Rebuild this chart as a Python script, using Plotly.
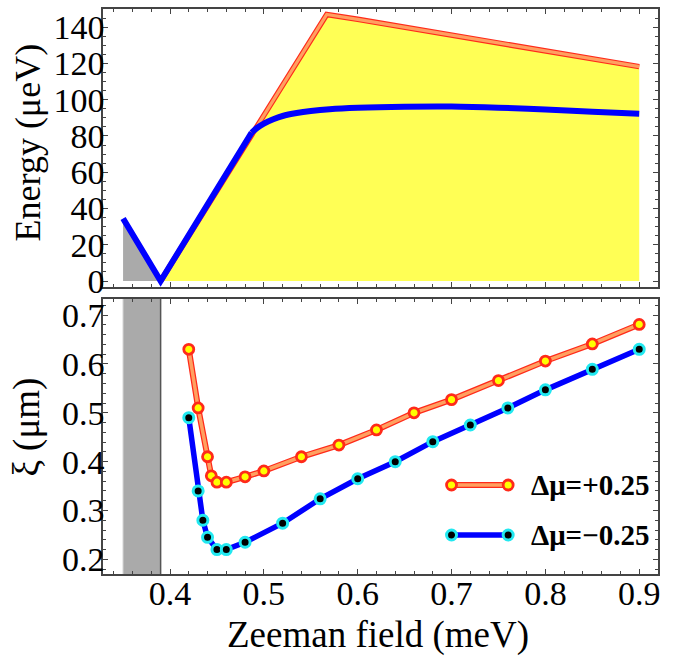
import plotly.graph_objects as go

# ---------------- data ----------------
# Top panel: energy vs Zeeman field
field_blue = [0.35, 0.39, 0.487, 0.493, 0.50, 0.51, 0.52, 0.535, 0.55, 0.57, 0.60, 0.65, 0.70, 0.75, 0.80, 0.85, 0.90]
energy_blue = [34.5, 0.0, 81.8, 84.5, 86.8, 89.2, 91.0, 92.6, 93.7, 94.7, 95.5, 96.1, 96.2, 95.6, 94.6, 93.4, 92.3]

field_upper = [0.39, 0.567, 0.60, 0.65, 0.70, 0.75, 0.80, 0.85, 0.90]
energy_upper = [0.0, 147.0, 144.3, 140.0, 135.4, 131.2, 127.0, 122.5, 118.2]

# Bottom panel: coherence length
field_pos = [0.42, 0.43, 0.44, 0.444, 0.45, 0.46, 0.48, 0.50, 0.54, 0.58, 0.62, 0.66, 0.70, 0.75, 0.80, 0.85, 0.90]
xi_pos = [0.630, 0.510, 0.410, 0.371, 0.358, 0.358, 0.369, 0.381, 0.410, 0.434, 0.465, 0.500, 0.527, 0.566, 0.606, 0.641, 0.681]

field_neg = [0.42, 0.43, 0.435, 0.44, 0.45, 0.46, 0.48, 0.52, 0.56, 0.60, 0.64, 0.68, 0.72, 0.76, 0.80, 0.85, 0.90]
xi_neg = [0.490, 0.340, 0.280, 0.245, 0.220, 0.220, 0.235, 0.274, 0.324, 0.365, 0.400, 0.441, 0.475, 0.510, 0.547, 0.589, 0.630]

gap_band = [0.35, 0.39]
legend_labels = ["Δμ=+0.25", "Δμ=−0.25"]
x_ticks = [0.4, 0.5, 0.6, 0.7, 0.8, 0.9]

# ---------------- styles ----------------
FONT = "Liberation Serif"
FRAME = "#444444"
YELLOW = "#FFFF55"
GREY = "#AAAAAA"
ORANGE = "#FFA060"
RED = "#FF2A1A"
BLUE = "#0000FF"
CYAN = "#22E8F0"

fig = go.Figure()

# grey fill under blue on gapless side
fig.add_trace(go.Scatter(x=field_blue[:2], y=energy_blue[:2], mode="lines",
                         line=dict(width=0, color=GREY), fill="tozeroy",
                         fillcolor=GREY, xaxis="x", yaxis="y", showlegend=False))
# yellow fill under upper edge
fig.add_trace(go.Scatter(x=field_upper, y=energy_upper, mode="lines",
                         line=dict(width=0, color=YELLOW), fill="tozeroy",
                         fillcolor=YELLOW, xaxis="x", yaxis="y", showlegend=False))
# orange upper edge with red border
fig.add_trace(go.Scatter(x=field_upper, y=energy_upper, mode="lines",
                         line=dict(width=5.5, color=RED), xaxis="x", yaxis="y", showlegend=False))
fig.add_trace(go.Scatter(x=field_upper, y=energy_upper, mode="lines",
                         line=dict(width=3.2, color=ORANGE), xaxis="x", yaxis="y", showlegend=False))
# blue curve: straight part + smooth part after the kink
fig.add_trace(go.Scatter(x=field_blue[:3], y=energy_blue[:3], mode="lines",
                         line=dict(width=6, color=BLUE), xaxis="x", yaxis="y", showlegend=False))
fig.add_trace(go.Scatter(x=field_blue[2:], y=energy_blue[2:], mode="lines",
                         line=dict(width=6, color=BLUE, shape="spline", smoothing=1.0),
                         xaxis="x", yaxis="y", showlegend=False))

# bottom panel: +0.25 series
fig.add_trace(go.Scatter(x=field_pos, y=xi_pos, mode="lines",
                         line=dict(width=6, color=RED), xaxis="x2", yaxis="y2", showlegend=False))
fig.add_trace(go.Scatter(x=field_pos, y=xi_pos, mode="lines+markers",
                         line=dict(width=3.5, color=ORANGE),
                         marker=dict(size=10, color="#FFFF00", line=dict(width=2.8, color=RED)),
                         xaxis="x2", yaxis="y2", showlegend=False))
# bottom panel: -0.25 series
fig.add_trace(go.Scatter(x=field_neg, y=xi_neg, mode="lines+markers",
                         line=dict(width=5.5, color=BLUE),
                         marker=dict(size=10, color="#000000", line=dict(width=3, color=CYAN)),
                         xaxis="x2", yaxis="y2", showlegend=False))

shapes = []
# grey band in bottom panel
shapes.append(dict(type="rect", xref="x2", yref="y2 domain", x0=gap_band[0], x1=gap_band[1],
                   y0=0, y1=1, fillcolor=GREY, line=dict(width=0), layer="below"))
shapes.append(dict(type="line", xref="x2", yref="y2 domain", x0=gap_band[1], x1=gap_band[1],
                   y0=0, y1=1, line=dict(width=1.5, color="#555555")))
shapes.append(dict(type="line", xref="x2", yref="y2 domain", x0=gap_band[0], x1=gap_band[0],
                   y0=0, y1=1, line=dict(width=1, color="#CCCCCC")))

# custom legend (paper coordinates)
leg_x0, leg_x1, leg_text_x = 0.628, 0.730, 0.768
leg_y = [0.1575, 0.069]
annotations = []
for i, lab in enumerate(legend_labels):
    y = leg_y[i]
    if i == 0:
        shapes.append(dict(type="line", xref="paper", yref="paper", x0=leg_x0, x1=leg_x1, y0=y, y1=y,
                           line=dict(width=6, color=RED)))
        shapes.append(dict(type="line", xref="paper", yref="paper", x0=leg_x0, x1=leg_x1, y0=y, y1=y,
                           line=dict(width=3.5, color=ORANGE)))
        fillc, linec, lw = "#FFFF00", RED, 2.8
    else:
        shapes.append(dict(type="line", xref="paper", yref="paper", x0=leg_x0, x1=leg_x1, y0=y, y1=y,
                           line=dict(width=5.5, color=BLUE)))
        fillc, linec, lw = "#000000", CYAN, 3
    for xc in (leg_x0, leg_x1):
        shapes.append(dict(type="circle", xref="paper", yref="paper", xsizemode="pixel",
                           ysizemode="pixel", xanchor=xc, yanchor=y, x0=-5, x1=5, y0=-5, y1=5,
                           fillcolor=fillc, line=dict(width=lw, color=linec)))
    annotations.append(dict(text="<b>" + lab + "</b>", xref="paper", yref="paper", x=leg_text_x,
                            y=y, xanchor="left", yanchor="middle", showarrow=False,
                            font=dict(family=FONT, size=29, color="black")))

# axis titles
annotations.append(dict(text="Energy (μeV)", xref="paper", yref="paper", x=-0.136, y=0.763,
                        xanchor="center", yanchor="middle", textangle=-90, showarrow=False,
                        font=dict(family=FONT, size=36, color="black")))
annotations.append(dict(text="ξ (μm)", xref="paper", yref="paper", x=-0.136, y=0.26,
                        xanchor="center", yanchor="middle", textangle=-90, showarrow=False,
                        font=dict(family=FONT, size=37, color="black")))
annotations.append(dict(text="Zeeman field (meV)", xref="paper", yref="paper", x=0.495, y=-0.108,
                        xanchor="center", yanchor="middle", showarrow=False,
                        font=dict(family=FONT, size=37, color="black")))

common_axis = dict(showline=True, linecolor=FRAME, linewidth=1.5, mirror="allticks",
                   ticks="inside", ticklen=5, tickwidth=1, tickcolor=FRAME,
                   showgrid=False, zeroline=False, automargin=False,
                   tickfont=dict(family=FONT, size=34, color="black"))

xr = [0.3286, 0.92]
fig.update_layout(
    width=676, height=656,
    margin=dict(l=103, r=18, t=9, b=82),
    paper_bgcolor="white", plot_bgcolor="white",
    xaxis=dict(domain=[0, 1], anchor="y", range=xr, tickvals=x_ticks, showticklabels=False,
               minor=dict(dtick=0.02, ticks="inside", ticklen=3, tickcolor=FRAME), **common_axis),
    yaxis=dict(domain=[0.508, 1], anchor="x", range=[-3.3, 150], dtick=20, ticklabelstandoff=-10,
               minor=dict(dtick=5, ticks="inside", ticklen=3, tickcolor=FRAME), **common_axis),
    xaxis2=dict(domain=[0, 1], anchor="y2", range=xr, tickvals=x_ticks, ticklabelstandoff=-12,
                minor=dict(dtick=0.02, ticks="inside", ticklen=3, tickcolor=FRAME), **common_axis),
    yaxis2=dict(domain=[0, 0.4867], anchor="x2", range=[0.170, 0.733], dtick=0.1,
                tickformat=".1f", ticklabelstandoff=-10,
                minor=dict(dtick=0.02, ticks="inside", ticklen=3, tickcolor=FRAME), **common_axis),
    shapes=shapes, annotations=annotations,
)

fig.write_html("out.html", config={"displayModeBar": False},
               post_script="document.body.style.margin='0';")
